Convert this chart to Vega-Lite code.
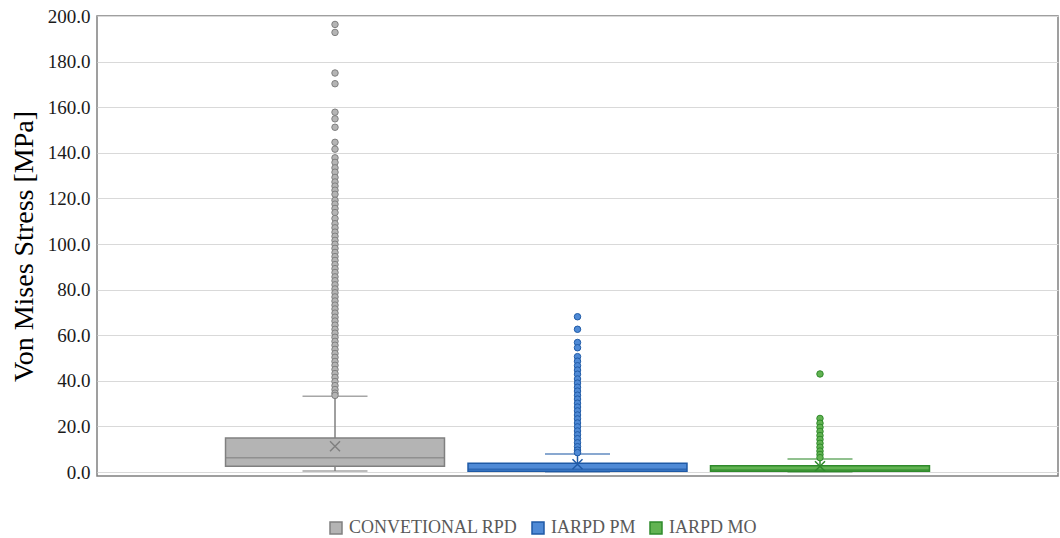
{
  "$schema": "https://vega.github.io/schema/vega-lite/v6.json",
  "width": 961,
  "height": 460,
  "autosize": "none",
  "padding": {"left": 97, "top": 16, "right": 2, "bottom": 62},
  "background": "white",
  "config": {
    "view": {"stroke": "#808080", "strokeWidth": 1.5},
    "axis": {"labelFont": "Liberation Serif", "titleFont": "Liberation Serif"},
    "legend": {"labelFont": "Liberation Serif"}
  },
  "datasets": {
    "stats": [
      {"group": "CONVETIONAL RPD", "lo": 0.4, "q1": 2.5, "median": 6.3, "q3": 14.9, "hi": 33.2, "mean": 11.3},
      {"group": "IARPD PM", "lo": 0.1, "q1": 0.3, "median": 1.2, "q3": 3.8, "hi": 7.9, "mean": 3.4},
      {"group": "IARPD MO", "lo": 0.1, "q1": 0.3, "median": 0.9, "q3": 2.8, "hi": 5.7, "mean": 2.5}
    ],
    "outliers": [
      {"group": "CONVETIONAL RPD", "value": 196.3}, {"group": "CONVETIONAL RPD", "value": 192.8},
      {"group": "CONVETIONAL RPD", "value": 175.0}, {"group": "CONVETIONAL RPD", "value": 170.3},
      {"group": "CONVETIONAL RPD", "value": 157.8}, {"group": "CONVETIONAL RPD", "value": 154.9},
      {"group": "CONVETIONAL RPD", "value": 151.2}, {"group": "CONVETIONAL RPD", "value": 144.6},
      {"group": "CONVETIONAL RPD", "value": 141.6}, {"group": "CONVETIONAL RPD", "value": 137.8},
      {"group": "CONVETIONAL RPD", "value": 135.8}, {"group": "CONVETIONAL RPD", "value": 133.4},
      {"group": "CONVETIONAL RPD", "value": 131.5}, {"group": "CONVETIONAL RPD", "value": 129.2},
      {"group": "CONVETIONAL RPD", "value": 127.2}, {"group": "CONVETIONAL RPD", "value": 125.4},
      {"group": "CONVETIONAL RPD", "value": 123.6}, {"group": "CONVETIONAL RPD", "value": 121.8},
      {"group": "CONVETIONAL RPD", "value": 119.2}, {"group": "CONVETIONAL RPD", "value": 117.5},
      {"group": "CONVETIONAL RPD", "value": 115.6}, {"group": "CONVETIONAL RPD", "value": 113.8},
      {"group": "CONVETIONAL RPD", "value": 111.2}, {"group": "CONVETIONAL RPD", "value": 108.9},
      {"group": "CONVETIONAL RPD", "value": 107.1}, {"group": "CONVETIONAL RPD", "value": 105.2},
      {"group": "CONVETIONAL RPD", "value": 103.4}, {"group": "CONVETIONAL RPD", "value": 101.6},
      {"group": "CONVETIONAL RPD", "value": 99.9}, {"group": "CONVETIONAL RPD", "value": 98.1},
      {"group": "CONVETIONAL RPD", "value": 96.3}, {"group": "CONVETIONAL RPD", "value": 94.5},
      {"group": "CONVETIONAL RPD", "value": 92.8}, {"group": "CONVETIONAL RPD", "value": 91.0},
      {"group": "CONVETIONAL RPD", "value": 89.2}, {"group": "CONVETIONAL RPD", "value": 87.5},
      {"group": "CONVETIONAL RPD", "value": 85.6}, {"group": "CONVETIONAL RPD", "value": 83.9},
      {"group": "CONVETIONAL RPD", "value": 82.1}, {"group": "CONVETIONAL RPD", "value": 80.3},
      {"group": "CONVETIONAL RPD", "value": 78.6}, {"group": "CONVETIONAL RPD", "value": 76.8},
      {"group": "CONVETIONAL RPD", "value": 75.0}, {"group": "CONVETIONAL RPD", "value": 73.2},
      {"group": "CONVETIONAL RPD", "value": 71.5}, {"group": "CONVETIONAL RPD", "value": 69.7},
      {"group": "CONVETIONAL RPD", "value": 67.9}, {"group": "CONVETIONAL RPD", "value": 66.2},
      {"group": "CONVETIONAL RPD", "value": 64.4}, {"group": "CONVETIONAL RPD", "value": 62.6},
      {"group": "CONVETIONAL RPD", "value": 60.9}, {"group": "CONVETIONAL RPD", "value": 59.1},
      {"group": "CONVETIONAL RPD", "value": 57.3}, {"group": "CONVETIONAL RPD", "value": 55.6},
      {"group": "CONVETIONAL RPD", "value": 53.8}, {"group": "CONVETIONAL RPD", "value": 52.0},
      {"group": "CONVETIONAL RPD", "value": 50.3}, {"group": "CONVETIONAL RPD", "value": 48.5},
      {"group": "CONVETIONAL RPD", "value": 46.8}, {"group": "CONVETIONAL RPD", "value": 45.0},
      {"group": "CONVETIONAL RPD", "value": 43.2}, {"group": "CONVETIONAL RPD", "value": 41.5},
      {"group": "CONVETIONAL RPD", "value": 39.7}, {"group": "CONVETIONAL RPD", "value": 37.9},
      {"group": "CONVETIONAL RPD", "value": 36.2}, {"group": "CONVETIONAL RPD", "value": 34.6},
      {"group": "CONVETIONAL RPD", "value": 33.6},
      {"group": "IARPD PM", "value": 68.1}, {"group": "IARPD PM", "value": 62.6},
      {"group": "IARPD PM", "value": 56.8}, {"group": "IARPD PM", "value": 54.5},
      {"group": "IARPD PM", "value": 50.6}, {"group": "IARPD PM", "value": 48.6},
      {"group": "IARPD PM", "value": 46.6}, {"group": "IARPD PM", "value": 44.7},
      {"group": "IARPD PM", "value": 42.9}, {"group": "IARPD PM", "value": 40.8},
      {"group": "IARPD PM", "value": 39.0}, {"group": "IARPD PM", "value": 37.2},
      {"group": "IARPD PM", "value": 35.5}, {"group": "IARPD PM", "value": 33.7},
      {"group": "IARPD PM", "value": 32.0}, {"group": "IARPD PM", "value": 30.2},
      {"group": "IARPD PM", "value": 28.5}, {"group": "IARPD PM", "value": 26.8},
      {"group": "IARPD PM", "value": 25.0}, {"group": "IARPD PM", "value": 23.3},
      {"group": "IARPD PM", "value": 21.5}, {"group": "IARPD PM", "value": 19.8},
      {"group": "IARPD PM", "value": 18.0}, {"group": "IARPD PM", "value": 16.3},
      {"group": "IARPD PM", "value": 14.6}, {"group": "IARPD PM", "value": 12.8},
      {"group": "IARPD PM", "value": 11.1}, {"group": "IARPD PM", "value": 9.6},
      {"group": "IARPD PM", "value": 8.5},
      {"group": "IARPD MO", "value": 43.0}, {"group": "IARPD MO", "value": 23.5},
      {"group": "IARPD MO", "value": 21.4}, {"group": "IARPD MO", "value": 19.6},
      {"group": "IARPD MO", "value": 17.8}, {"group": "IARPD MO", "value": 16.0},
      {"group": "IARPD MO", "value": 14.3}, {"group": "IARPD MO", "value": 12.6},
      {"group": "IARPD MO", "value": 10.9}, {"group": "IARPD MO", "value": 9.2},
      {"group": "IARPD MO", "value": 7.7}, {"group": "IARPD MO", "value": 6.3}
    ]
  },
  "layer": [
    {
      "data": {"name": "stats"},
      "mark": {"type": "bar", "strokeWidth": 1.5},
      "encoding": {
        "x": {"field": "group", "type": "nominal", "sort": ["CONVETIONAL RPD", "IARPD PM", "IARPD MO"],
              "scale": {"type": "band", "paddingInner": 0.097, "paddingOuter": 0.53}, "axis": null},
        "y": {"field": "q1", "type": "quantitative",
              "scale": {"domain": [-1.75, 200], "nice": false, "zero": false},
              "axis": {"values": [0, 20, 40, 60, 80, 100, 120, 140, 160, 180, 200], "format": ".1f",
                       "title": "Von Mises Stress [MPa]", "titleFontSize": 28, "titleFontWeight": "normal",
                       "titleColor": "#000000", "titlePadding": 9,
                       "labelFontSize": 19, "labelColor": "#1a1a1a", "labelPadding": 7,
                       "ticks": false, "domain": false, "grid": true, "gridColor": "#d9d9d9", "gridWidth": 1}},
        "y2": {"field": "q3"},
        "fill": {"field": "group", "type": "nominal", "title": null,
                 "scale": {"domain": ["CONVETIONAL RPD", "IARPD PM", "IARPD MO"], "range": ["#b4b4b4", "#4f8ad6", "#62b352"]},
                 "legend": {"orient": "none", "legendX": 230, "legendY": 503, "direction": "horizontal",
                            "symbolType": "square", "symbolSize": 144, "symbolStrokeWidth": 1.5, "labelLimit": 400,
                            "labelFontSize": 18, "labelColor": "#595959", "labelOffset": 4, "columnPadding": 11, "padding": 0}},
        "stroke": {"field": "group", "type": "nominal", "title": null,
                   "scale": {"domain": ["CONVETIONAL RPD", "IARPD PM", "IARPD MO"], "range": ["#808080", "#1f5aa6", "#2f8a2b"]}}
      }
    },
    {
      "data": {"name": "stats"},
      "mark": {"type": "tick", "size": 219, "thickness": 1.5},
      "encoding": {
        "x": {"field": "group", "type": "nominal", "sort": ["CONVETIONAL RPD", "IARPD PM", "IARPD MO"]},
        "y": {"field": "median", "type": "quantitative"},
        "color": {"field": "group", "type": "nominal", "scale": {"domain": ["CONVETIONAL RPD", "IARPD PM", "IARPD MO"], "range": ["#808080", "#1f5aa6", "#2f8a2b"]}, "legend": null}
      }
    },
    {
      "data": {"name": "stats"},
      "mark": {"type": "rule", "strokeWidth": 1.5},
      "encoding": {
        "x": {"field": "group", "type": "nominal", "sort": ["CONVETIONAL RPD", "IARPD PM", "IARPD MO"]},
        "y": {"field": "q3", "type": "quantitative"},
        "y2": {"field": "hi"},
        "stroke": {"field": "group", "type": "nominal", "legend": null}
      }
    },
    {
      "data": {"name": "stats"},
      "mark": {"type": "rule", "strokeWidth": 1.5},
      "encoding": {
        "x": {"field": "group", "type": "nominal", "sort": ["CONVETIONAL RPD", "IARPD PM", "IARPD MO"]},
        "y": {"field": "lo", "type": "quantitative"},
        "y2": {"field": "q1"},
        "stroke": {"field": "group", "type": "nominal", "legend": null}
      }
    },
    {
      "data": {"name": "stats"},
      "mark": {"type": "tick", "size": 65, "thickness": 1.5},
      "encoding": {
        "x": {"field": "group", "type": "nominal", "sort": ["CONVETIONAL RPD", "IARPD PM", "IARPD MO"]},
        "y": {"field": "hi", "type": "quantitative"},
        "color": {"field": "group", "type": "nominal", "scale": {"domain": ["CONVETIONAL RPD", "IARPD PM", "IARPD MO"], "range": ["#808080", "#1f5aa6", "#2f8a2b"]}, "legend": null}
      }
    },
    {
      "data": {"name": "stats"},
      "mark": {"type": "tick", "size": 65, "thickness": 1.5},
      "encoding": {
        "x": {"field": "group", "type": "nominal", "sort": ["CONVETIONAL RPD", "IARPD PM", "IARPD MO"]},
        "y": {"field": "lo", "type": "quantitative"},
        "color": {"field": "group", "type": "nominal", "scale": {"domain": ["CONVETIONAL RPD", "IARPD PM", "IARPD MO"], "range": ["#808080", "#1f5aa6", "#2f8a2b"]}, "legend": null}
      }
    },
    {
      "data": {"name": "outliers"},
      "mark": {"type": "point", "filled": true, "size": 42, "strokeWidth": 1, "opacity": 1},
      "encoding": {
        "x": {"field": "group", "type": "nominal", "sort": ["CONVETIONAL RPD", "IARPD PM", "IARPD MO"]},
        "y": {"field": "value", "type": "quantitative"},
        "fill": {"field": "group", "type": "nominal", "legend": null},
        "stroke": {"field": "group", "type": "nominal", "legend": null}
      }
    },
    {
      "data": {"name": "stats"},
      "mark": {"type": "point", "shape": "M-1,-1L1,1M1,-1L-1,1", "filled": false, "size": 100, "strokeWidth": 1.5, "opacity": 1},
      "encoding": {
        "x": {"field": "group", "type": "nominal", "sort": ["CONVETIONAL RPD", "IARPD PM", "IARPD MO"]},
        "y": {"field": "mean", "type": "quantitative"},
        "stroke": {"field": "group", "type": "nominal", "legend": null}
      }
    }
  ],
  "resolve": {"scale": {"color": "independent"}}
}
